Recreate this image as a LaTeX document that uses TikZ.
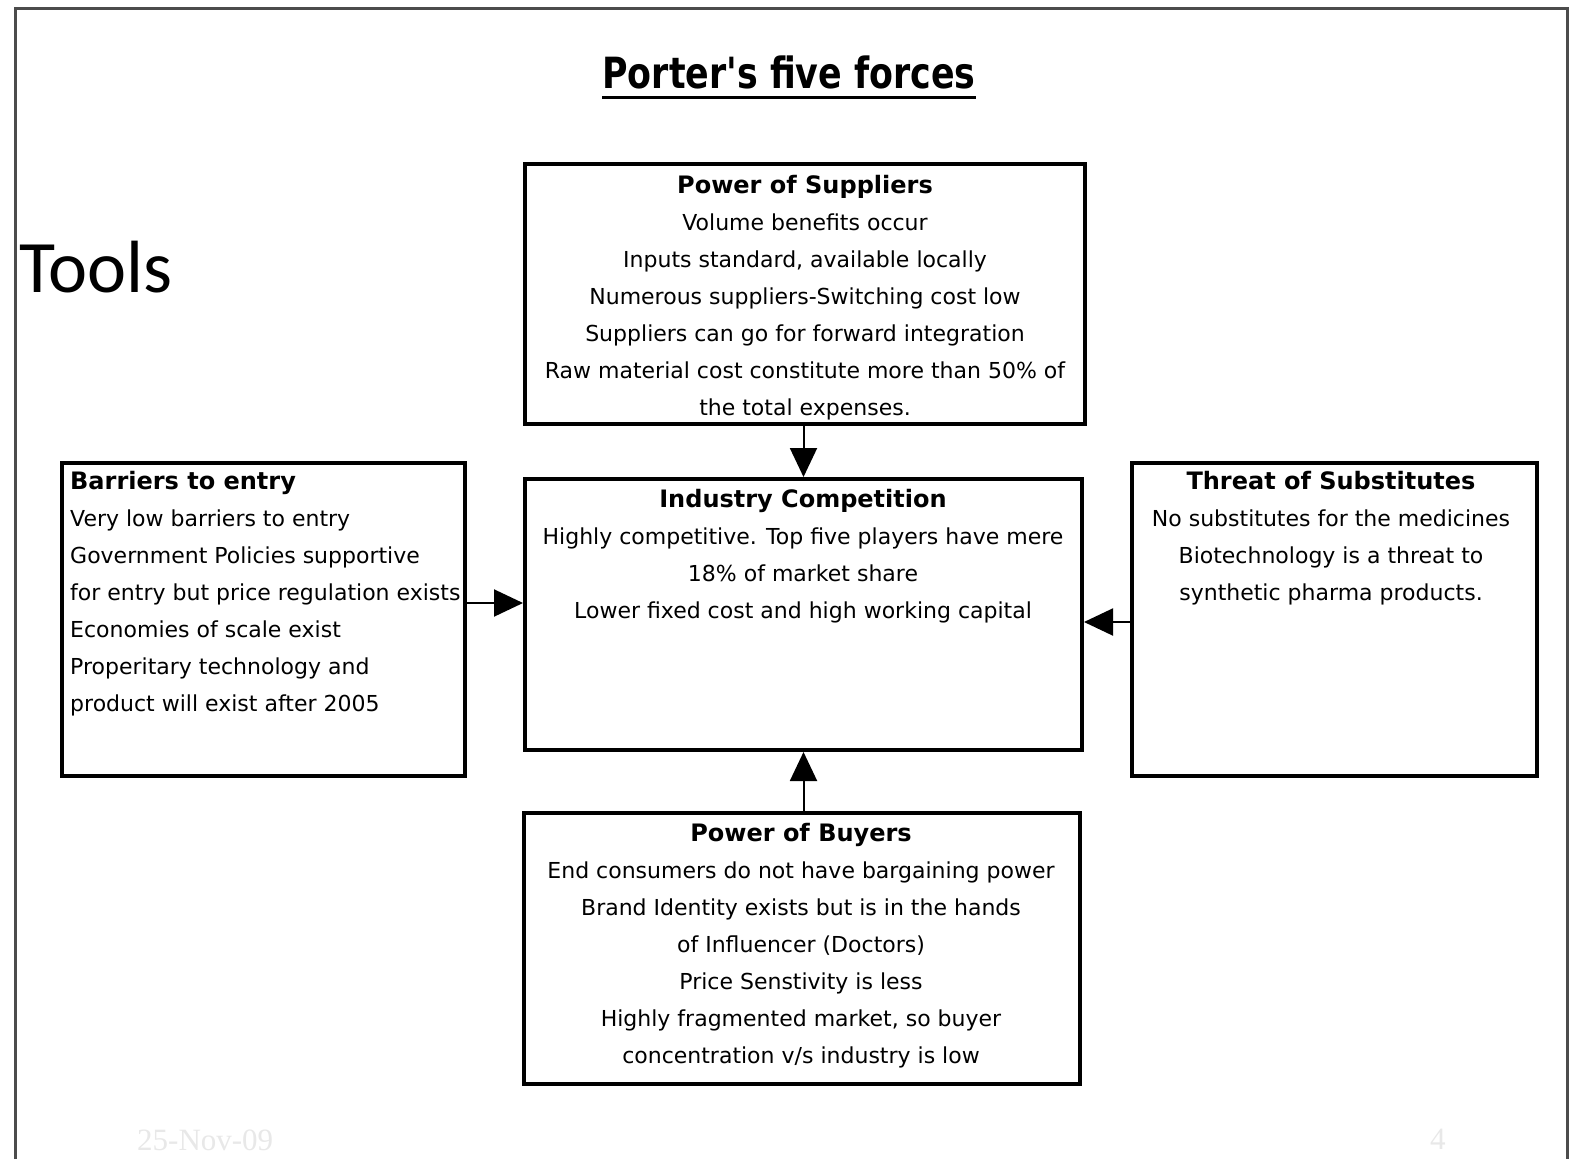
\documentclass[tikz,border=0pt]{standalone}
\usepackage{fontspec}
\setmainfont{DejaVu Sans}
\newfontfamily\toolsfont{Carlito}
\newfontfamily\footfont{Liberation Serif}
\usetikzlibrary{arrows.meta}

\newcommand\hd[1]{{\fontsize{24}{37}\selectfont\bfseries #1}}

\tikzset{
  forcebox/.style={draw=black, line width=4pt, inner sep=0pt, fill=white},
  forcetext/.style={inner sep=0pt, anchor=north, align=center,
    font=\fontsize{22}{37}\selectfont},
  forcearrow/.style={line width=2pt, -{Triangle[length=29pt,width=27pt]}},
  frameline/.style={draw=black!70, line width=3pt},
  foot/.style={inner sep=0pt, anchor=base west, text=black!9,
    font=\footfont\fontsize{31}{31}\selectfont}
}

\begin{document}
\begin{tikzpicture}[x=1pt,y=-1pt]
  \useasboundingbox (0,0) rectangle (1573,1159);
  \fill[white] (0,0) rectangle (1573,1159);

  % slide frame
  \draw[frameline] (15,1159) -- (15,8) -- (1567,8) -- (1567,1159);

  % title and side caption
  \node[inner sep=0pt, anchor=base] (title) at (789,88)
    {\scalebox{0.81}[1]{\fontsize{43}{43}\selectfont\bfseries Porter\textquotesingle s five forces}};
  \draw[line width=3pt] ([yshift=-9pt]title.base west) -- ([yshift=-9pt]title.base east);
  \node[inner sep=0pt, anchor=base west, font=\toolsfont\fontsize{74}{74}\selectfont]
    (tools) at (19,292) {Tools};

  % the five boxes
  \node[forcebox, minimum width=560pt, minimum height=260pt] (sup) at (805,294) {};
  \node[forcebox, minimum width=557pt, minimum height=271pt] (ind) at (803.5,614.5) {};
  \node[forcebox, minimum width=403pt, minimum height=313pt] (bar) at (263.5,619.5) {};
  \node[forcebox, minimum width=405pt, minimum height=313pt] (sub) at (1334.5,619.5) {};
  \node[forcebox, minimum width=556pt, minimum height=271pt] (buy) at (802,948.5) {};

  % box contents
  \node[forcetext] (suptext) at (805,175) {\hd{Power of Suppliers}\\
    Volume benefits occur\\
    Inputs standard, available locally\\
    Numerous suppliers-Switching cost low\\
    Suppliers can go for forward integration\\
    Raw material cost constitute more than 50\% of\\
    the total expenses.};
  \node[forcetext] (indtext) at (803,489) {\hd{Industry Competition}\\
    Highly competitive. Top five players have mere\\
    18\% of market share\\
    Lower fixed cost and high working capital};
  \node[forcetext, anchor=north west, align=left] (bartext) at (70,471) {\hd{Barriers to entry}\\
    Very low barriers to entry\\
    Government Policies supportive\\
    for entry but price regulation exists\\
    Economies of scale exist\\
    Properitary technology and\\
    product will exist after 2005};
  \node[forcetext] (subtext) at (1331,471) {\hd{Threat of Substitutes}\\
    No substitutes for the medicines\\
    Biotechnology is a threat to\\
    synthetic pharma products.};
  \node[forcetext] (buytext) at (801,823) {\hd{Power of Buyers}\\
    End consumers do not have bargaining power\\
    Brand Identity exists but is in the hands\\
    of Influencer (Doctors)\\
    Price Senstivity is less\\
    Highly fragmented market, so buyer\\
    concentration v/s industry is low};

  % forces acting on the industry
  \draw[forcearrow] (sup.south -| ind.north) -- (ind.north);
  \draw[forcearrow] (buy.north -| ind.south) -- (ind.south);
  \coordinate (barout) at ([yshift=16.5pt]bar.east);
  \draw[forcearrow] (barout) -- (barout -| ind.west);
  \coordinate (subout) at ([yshift=-2.5pt]sub.west);
  \draw[forcearrow] (subout) -- (subout -| ind.east);

  % footer
  \node[foot] (date) at (137,1150) {25-Nov-09};
  \node[foot] (page) at (1430,1149) {4};
\end{tikzpicture}
\end{document}
